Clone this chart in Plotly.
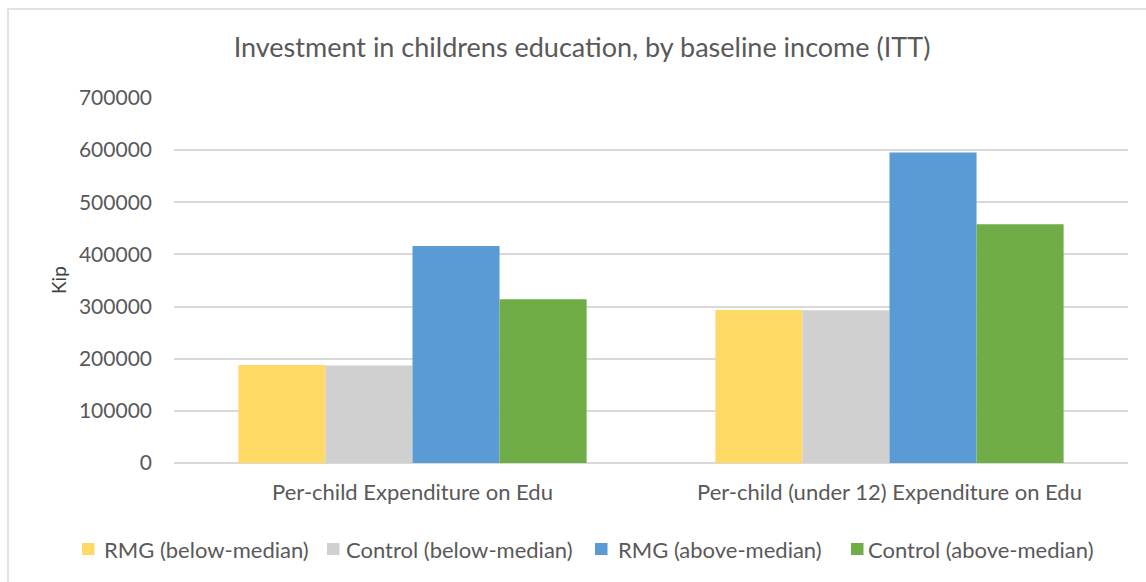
import plotly.graph_objects as go

categories = ["Per-child Expenditure on Edu", "Per-child (under 12) Expenditure on Edu"]
series_names = ["RMG (below-median)", "Control (below-median)", "RMG (above-median)", "Control (above-median)"]
rmg_below = [188000, 293500]
control_below = [187000, 293000]
rmg_above = [416000, 595500]
control_above = [314000, 458000]
colors = ["#FFD966", "#D0D0D0", "#5B9BD5", "#70AD47"]
y_ticks = [0, 100000, 200000, 300000, 400000, 500000, 600000, 700000]

FONT = "Lato"
TXT = "#595959"

fig = go.Figure()
for name, vals, col in zip(series_names, [rmg_below, control_below, rmg_above, control_above], colors):
    fig.add_trace(go.Bar(name=name, x=categories, y=vals, showlegend=False,
                         marker=dict(color=col, line=dict(width=0))))

L, R, T, B = 174, 18, 98, 119
W, H = 1146, 582
pw = W - L - R
ph = H - T - B


def px(xp):
    return (xp - L) / pw


def py(yp):
    return (H - B - yp) / ph


# legend drawn manually: square left edges and text starts (pixels)
legend_sq_x = [82, 327, 595, 851]
legend_txt_x = [102, 344, 616, 866]
legend_y = 549

annotations = [dict(text="Kip", x=px(58), xref="paper", y=py(280), yref="paper",
                    showarrow=False, textangle=-90, font=dict(size=19, color="#404040", family=FONT),
                    xanchor="center", yanchor="middle")]
shapes = [dict(type="rect", xref="paper", yref="paper",
               x0=px(8), x1=px(1160), y0=py(600), y1=py(9),
               line=dict(color="#D9D9D9", width=1.5), fillcolor="rgba(0,0,0,0)", layer="below")]
for name, col, sx, tx in zip(series_names, colors, legend_sq_x, legend_txt_x):
    shapes.append(dict(type="rect", xref="paper", yref="paper",
                       x0=px(sx), x1=px(sx + 12.5), y0=py(legend_y + 6), y1=py(legend_y - 6),
                       line=dict(width=0), fillcolor=col))
    annotations.append(dict(text=name, x=px(tx), xref="paper", y=py(legend_y), yref="paper",
                            showarrow=False, xanchor="left", yanchor="middle",
                            font=dict(size=22, color=TXT, family=FONT)))

fig.update_layout(
    width=W, height=H,
    margin=dict(l=L, r=R, t=T, b=B),
    paper_bgcolor="white", plot_bgcolor="white",
    barmode="group", bargap=0.27, bargroupgap=0,
    font=dict(family=FONT, color=TXT, size=20),
    title=dict(text="Investment in childrens education, by baseline income (ITT)",
               x=582 / W, xanchor="center", y=1 - 48 / H, yanchor="middle",
               font=dict(size=27, color=TXT, family=FONT)),
    showlegend=False,
    xaxis=dict(showgrid=False, showline=False, ticks="", tickfont=dict(size=22, color=TXT),
               ticklabelstandoff=14),
    yaxis=dict(range=[0, 700000], tickvals=y_ticks, ticktext=[str(v) for v in y_ticks],
               showgrid=True, gridcolor="#D9D9D9", gridwidth=1.5, zeroline=True,
               zerolinecolor="#D9D9D9", zerolinewidth=1.5, showline=False,
               tickfont=dict(size=21, color=TXT), ticklabelstandoff=21),
    annotations=annotations,
    shapes=shapes,
)

fig.write_html("out.html")
